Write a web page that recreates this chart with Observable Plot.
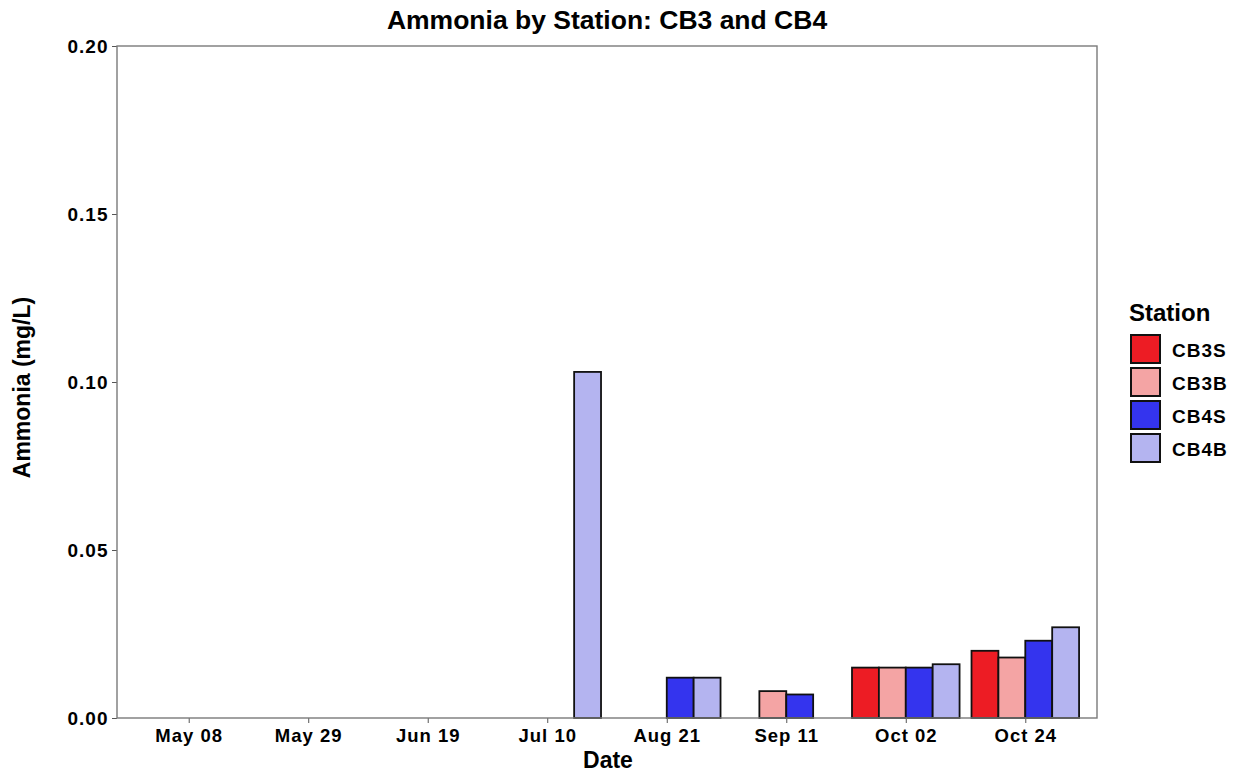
<!DOCTYPE html>
<html>
<head>
<meta charset="utf-8">
<script src="https://cdn.jsdelivr.net/npm/d3@7"></script>
<script src="https://cdn.jsdelivr.net/npm/@observablehq/plot@0.6"></script>
<style>
  body { margin: 0; background: #fff; font-family: "Liberation Sans", Arial, sans-serif; }
  #wrap { position: relative; width: 1239px; height: 775px; overflow: hidden; background: #fff; }
  #wrap svg { position: absolute; left: 0; top: 0; }
  .txt { position: absolute; font-weight: bold; color: #000; line-height: 1; white-space: nowrap; }
  #title { left: 117px; width: 980px; top: 7px; font-size: 26.5px; text-align: center; }
  #ylab { left: -178px; width: 400px; top: 376px; font-size: 23px; text-align: center; transform: rotate(-90deg); transform-origin: 200px 11.5px; }
  #xlab { left: 408px; width: 400px; top: 749px; font-size: 23px; text-align: center; }
  #legtitle { left: 1129px; top: 301px; font-size: 24px; }
  .key { position: absolute; left: 1130px; width: 31px; height: 30px; box-sizing: border-box; border: 2px solid #111; }
  .klab { position: absolute; left: 1172px; font-size: 19px; font-weight: bold; line-height: 1; letter-spacing: 1px; }
  g[aria-label="y-axis tick label"] text { font-size: 19px; font-weight: bold; letter-spacing: 1px; }
  g[aria-label="fx-axis tick label"] text { font-size: 18.5px; font-weight: bold; letter-spacing: 1px; }
</style>
</head>
<body>
<div id="wrap">
  <div id="title" class="txt">Ammonia by Station: CB3 and CB4</div>
  <div id="ylab" class="txt">Ammonia (mg/L)</div>
  <div id="xlab" class="txt">Date</div>
  <div id="legtitle" class="txt">Station</div>
</div>
<script>
// ---- data ----
const dates = ["May 08", "May 29", "Jun 19", "Jul 10", "Aug 21", "Sep 11", "Oct 02", "Oct 24"];
const stations = ["CB3S", "CB3B", "CB4S", "CB4B"];
const stationColors = ["#ED1C24", "#F4A4A4", "#3434EE", "#B4B4F0"];
// Ammonia (mg/L) per date, one array per station (null = no value)
const cb3s = [null, null, null, null, null, null, 0.015, 0.020];
const cb3b = [null, null, null, null, null, 0.008, 0.015, 0.018];
const cb4s = [null, null, null, null, 0.012, 0.007, 0.015, 0.023];
const cb4b = [null, null, null, 0.103, 0.012, null, 0.016, 0.027];
const yTicks = [0, 0.05, 0.10, 0.15, 0.20];

const series = [cb3s, cb3b, cb4s, cb4b];
const rows = [];
dates.forEach((d, i) => stations.forEach((s, j) => rows.push({date: d, station: s, value: series[j][i]})));

const W = 1239, H = 775, ML = 117, MR = 142, MT = 46, MB = 57;
const padIn = 0.1, padOut = 0.15;
const step = (W - ML - MR) / (dates.length - padIn + 2 * padOut);
const axisShift = padOut * step; // the y axis sits at the panel edge, not the first facet edge

const chart = Plot.plot({
  width: W, height: H,
  marginLeft: ML, marginRight: MR, marginTop: MT, marginBottom: MB,
  style: {fontFamily: "'Liberation Sans', Arial, sans-serif", fontWeight: "bold", color: "#000", background: "transparent", overflow: "visible"},
  fx: {domain: dates, paddingInner: padIn, paddingOuter: padOut, round: false, axis: null, label: null},
  x: {domain: stations, padding: 0, round: false, axis: null},
  y: {domain: [0, 0.2], axis: null},
  color: {domain: stations, range: stationColors},
  marks: [
    Plot.barY(rows, {fx: "date", x: "station", y: "value", fill: "station", stroke: "#111", strokeWidth: 1.8}),
    Plot.axisY(yTicks, {anchor: "left", facetAnchor: "left", dx: -axisShift, tickFormat: d3.format(".2f"), tickSize: 5, tickPadding: 4, stroke: "#555", fill: "#000", label: null}),
    Plot.axisFx({anchor: "bottom", tickSize: 5, tickPadding: 5, stroke: "#555", fill: "#000", label: null})
  ]
});

// panel border (ggplot panel.border) around the whole plotting area
d3.select(chart).append("rect")
  .attr("x", ML).attr("y", MT)
  .attr("width", W - ML - MR).attr("height", H - MT - MB)
  .attr("fill", "none").attr("stroke", "#7a7a7a").attr("stroke-width", 1.4);

document.getElementById("wrap").appendChild(chart);

// legend built from the same arrays
const wrap = document.getElementById("wrap");
stations.forEach((s, i) => {
  const k = document.createElement("div");
  k.className = "key";
  k.style.top = (334 + i * 33) + "px";
  k.style.background = stationColors[i];
  wrap.appendChild(k);
  const l = document.createElement("div");
  l.className = "klab";
  l.style.top = (341 + i * 33) + "px";
  l.textContent = s;
  wrap.appendChild(l);
});
</script>
</body>
</html>
